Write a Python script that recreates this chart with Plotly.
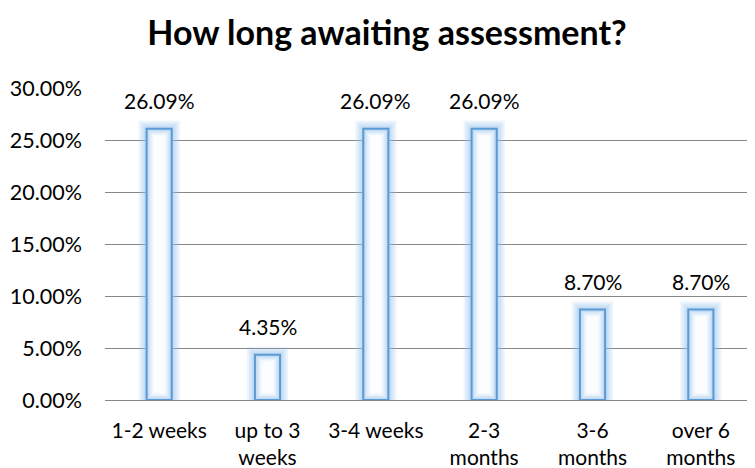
import plotly.graph_objects as go

categories = ["1-2 weeks", "up to 3<br>weeks", "3-4 weeks", "2-3<br>months", "3-6<br>months", "over 6<br>months"]
values = [0.2609, 0.0435, 0.2609, 0.2609, 0.0870, 0.0870]
y_ticks = [0, 0.05, 0.10, 0.15, 0.20, 0.25, 0.30]
title_text = "How long awaiting assessment?"

# page body adds an 8px offset; the figure is sized to the visible area
W, H = 747, 460
ML, MR, MT, MB = 97, 0, 80, 68
plot_w = W - ML - MR
plot_h = H - MT - MB
cat_px = plot_w / len(categories)
y_per_px = 0.30 / plot_h

FONT = "Lato"
bar_w = 0.232

fig = go.Figure()

# outer glow layers
glow_steps = [8, 6, 4, 2.5, 1.2]
for k in glow_steps:
    d = k * y_per_px
    fig.add_trace(go.Bar(
        x=categories,
        y=[v + 2 * d for v in values],
        base=[-d] * len(values),
        width=bar_w + 2 * k / cat_px,
        marker=dict(color="rgba(150,195,240,0.18)", line=dict(width=0)),
        hoverinfo="skip", showlegend=False,
    ))

# main bar
fig.add_trace(go.Bar(
    x=categories, y=values, width=bar_w,
    marker=dict(color="#c4dcf4", line=dict(color="#5b9bd5", width=2)),
    showlegend=False,
))

# inner glow (lighten towards centre)
for k, col in [(2.5, "#d6e7f8"), (4, "#e6f0fb"), (5.5, "#f3f8fd"), (7, "#fcfdff")]:
    d = k * y_per_px
    fig.add_trace(go.Bar(
        x=categories,
        y=[max(v - 2 * d, 0) for v in values],
        base=[d] * len(values),
        width=max(bar_w - 2 * k / cat_px, 0.02),
        marker=dict(color=col, line=dict(width=0)),
        hoverinfo="skip", showlegend=False,
    ))

for c, v in zip(categories, values):
    fig.add_annotation(
        x=c, y=v, text=f"{v*100:.2f}%", showarrow=False,
        yanchor="bottom", yshift=14,
        font=dict(family=FONT, size=21, color="#000000"),
    )

fig.update_layout(
    width=W, height=H,
    margin=dict(l=ML, r=MR, t=MT, b=MB),
    barmode="overlay",
    plot_bgcolor="white", paper_bgcolor="white",
    title=dict(text=f"<b>{title_text}</b>", x=379 / W, xanchor="center",
               y=1 - 25 / H, yanchor="middle",
               font=dict(family=FONT, size=34, color="#000000")),
    font=dict(family=FONT, size=21, color="#000000"),
    showlegend=False,
)
fig.update_xaxes(
    type="category", showgrid=False, showline=False, ticks="",
    tickfont=dict(family=FONT, size=21, color="#000000"),
    ticklabelstandoff=16, automargin=False,
    range=[-0.5, len(categories) - 0.5],
)
fig.update_yaxes(
    range=[0, 0.30], tickvals=y_ticks, tickformat=".2%",
    showgrid=True, gridcolor="#878787", gridwidth=1,
    zeroline=True, zerolinecolor="#878787", zerolinewidth=1,
    showline=False, ticks="", automargin=False,
    tickfont=dict(family=FONT, size=21.5, color="#000000"),
    ticklabelstandoff=22,
)

fig.write_html("out.html")
